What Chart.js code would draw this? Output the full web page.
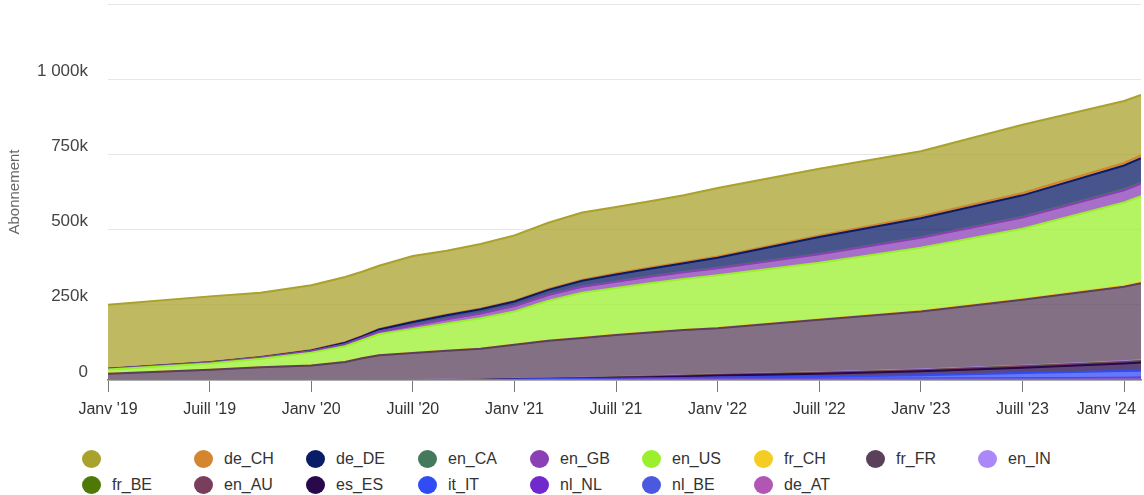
<!DOCTYPE html>
<html lang="fr">
<head>
<meta charset="utf-8">
<title>Abonnements par pays</title>
<script src="https://cdn.jsdelivr.net/npm/chart.js@4.4.1/dist/chart.umd.min.js"></script>
<style>
  html, body { margin: 0; padding: 0; background: #fff; }
  body { width: 1144px; height: 495px; position: relative; overflow: hidden; font-family: "Liberation Sans", Arial, sans-serif; }
  #zone { position: absolute; left: 0; top: 0; width: 1144px; height: 420px; }
  #legende { position: absolute; left: 82px; top: 446px; display: grid; grid-template-columns: repeat(9, 112px); grid-auto-rows: 26px; }
  .item { display: flex; align-items: center; font-size: 16px; color: #333; white-space: nowrap; }
  .puce { width: 19px; height: 18px; border-radius: 50%; margin-right: 11px; flex: none; }
</style>
</head>
<body>
<div id="zone"><canvas id="graphique"></canvas></div>
<div id="legende"></div>
<script>
// mois écoulés depuis janvier 2019
const mois = [0, 6, 9, 12, 14, 15, 16, 18, 20, 22, 24, 26, 28, 30, 32, 34, 36, 42, 48, 54, 60, 61];
const ticksMois = [0, 6, 12, 18, 24, 30, 36, 42, 48, 54, 60];
const etiquettesMois = ["Janv '19", "Juill '19", "Janv '20", "Juill '20", "Janv '21", "Juill '21",
  "Janv '22", "Juill '22", "Janv '23", "Juill '23", "Janv '24"];
const ticksAbonnes = [0, 250, 500, 750, 1000, 1250];

// abonnements, en milliers
const sansNom = [212, 218, 213, 215, 217, 213, 210, 217, 212, 214, 217, 220, 223, 220, 220, 222, 227, 222, 216, 227, 206, 201];
const deCH = [0.8, 1, 1.2, 1.5, 1.7, 1.8, 2, 2.3, 2.5, 2.8, 3, 3.3, 3.6, 3.9, 4.2, 4.5, 4.8, 5.5, 6.5, 7.5, 8.5, 8.8];
const deDE = [0.7, 1, 1.5, 2.5, 5, 5, 7, 11, 12.5, 13, 14, 16, 19, 23, 25, 28, 33, 55, 63, 71, 79, 82];
const enCA = [0.2, 0.3, 0.3, 0.4, 0.5, 0.5, 0.6, 0.7, 0.8, 0.9, 1, 1.1, 1.2, 1.3, 1.4, 1.5, 1.6, 2, 2.4, 2.8, 3.2, 3.3];
const enGB = [1.3, 2.7, 3.2, 4.6, 6.5, 7.5, 8.4, 11.3, 14.2, 16.1, 18, 18.9, 19.8, 20.7, 21.6, 22.5, 23.4, 28, 32.6, 37.2, 40.8, 41.7];
const enUS = [13.7, 20.7, 28.6, 42.5, 51.5, 59.4, 69.4, 79.3, 90.2, 100.1, 110, 131.9, 148.8, 154.7, 162.6, 168.5, 174.4, 188.1, 209.8, 233.4, 277, 285.9];
const frCH = [0.3, 0.3, 0.4, 0.5, 0.5, 0.6, 0.6, 0.7, 0.8, 0.9, 1, 1.1, 1.2, 1.3, 1.4, 1.5, 1.6, 1.9, 2.2, 2.6, 3, 3.1];
const frFR = [21, 34, 42, 48, 60, 72, 82, 90, 96.5, 103, 113, 125, 132.5, 140, 145.5, 150.5, 153.5, 174.5, 193.5, 219.5, 247.5, 256];
const enIN = [0, 0, 0, 0, 0, 0, 0, 0, 0.3, 0.5, 0.6, 0.7, 0.8, 0.9, 1, 1.1, 1.2, 1.5, 1.8, 2.1, 2.5, 2.6];
const frBE = [0, 0, 0, 0, 0, 0, 0, 0, 0, 0.1, 0.2, 0.3, 0.3, 0.4, 0.4, 0.5, 0.5, 0.6, 0.7, 0.8, 1, 1];
const enAU = [0, 0, 0, 0, 0, 0, 0, 0, 0.2, 0.5, 0.8, 1, 1.2, 1.4, 1.6, 1.8, 2, 2.5, 3, 3.5, 4, 4.2];
const esES = [0, 0, 0, 0, 0, 0, 0, 0, 0, 0, 0.3, 0.6, 1.2, 2.2, 3.5, 5, 7, 10, 13, 18, 25, 27];
const itIT = [0, 0, 0, 0, 0, 0, 0, 0, 0, 0, 1.6, 2.2, 2.8, 3.4, 4, 4.7, 5.3, 7.2, 11.1, 17, 22.4, 22.9];
const nlNL = [0, 0, 0, 0, 0, 0, 0, 0, 0, 0, 0.1, 0.2, 0.3, 0.4, 0.5, 0.6, 0.7, 1, 1.3, 1.6, 2, 2.1];
const nlBE = [0, 0, 0, 0, 0, 0, 0, 0, 0, 0, 0.2, 0.4, 0.6, 0.8, 1, 1.2, 1.4, 2, 2.6, 3.2, 4, 4.2];
const deAT = [0, 0, 0, 0, 0, 0, 0, 0, 0, 0, 0.1, 0.2, 0.3, 0.4, 0.5, 0.5, 0.6, 0.8, 1, 1.2, 1.6, 1.8];

// ordre d'empilement, du bas vers le haut
const pile = [
  { nom: 'de_AT', valeurs: deAT, couleur: '#b256b4' },
  { nom: 'nl_BE', valeurs: nlBE, couleur: '#4b59e0' },
  { nom: 'nl_NL', valeurs: nlNL, couleur: '#6f29cc' },
  { nom: 'it_IT', valeurs: itIT, couleur: '#2f4cf6' },
  { nom: 'es_ES', valeurs: esES, couleur: '#27094c' },
  { nom: 'en_AU', valeurs: enAU, couleur: '#7a3e5d' },
  { nom: 'fr_BE', valeurs: frBE, couleur: '#4f7907' },
  { nom: 'en_IN', valeurs: enIN, couleur: '#ab87f8' },
  { nom: 'fr_FR', valeurs: frFR, couleur: '#5b405b' },
  { nom: 'fr_CH', valeurs: frCH, couleur: '#f3cd21' },
  { nom: 'en_US', valeurs: enUS, couleur: '#9bf02e' },
  { nom: 'en_GB', valeurs: enGB, couleur: '#8b3fb6' },
  { nom: 'en_CA', valeurs: enCA, couleur: '#45795d' },
  { nom: 'de_DE', valeurs: deDE, couleur: '#0b1c66' },
  { nom: 'de_CH', valeurs: deCH, couleur: '#d5852f' },
  { nom: '', valeurs: sansNom, couleur: '#a9a22c' }
];

const police = '"Liberation Sans", Arial, sans-serif';
Chart.defaults.font.family = police;

function transparence(hex, a) {
  const n = parseInt(hex.slice(1), 16);
  return `rgba(${(n >> 16) & 255}, ${(n >> 8) & 255}, ${n & 255}, ${a})`;
}

function formatK(v) {
  if (v === 0) return '0';
  return String(v).replace(/\B(?=(\d{3})+(?!\d))/g, ' ') + 'k';
}

// légende en grille sous le graphique
const legendeHtml = {
  id: 'legendeHtml',
  afterUpdate(chart) {
    const boite = document.getElementById('legende');
    boite.innerHTML = '';
    const items = chart.options.plugins.legend.labels.generateLabels(chart).reverse();
    items.forEach(it => {
      const el = document.createElement('div');
      el.className = 'item';
      const puce = document.createElement('span');
      puce.className = 'puce';
      puce.style.background = it.strokeStyle;
      const txt = document.createElement('span');
      txt.textContent = it.text;
      el.appendChild(puce);
      el.appendChild(txt);
      boite.appendChild(el);
    });
  }
};

const ctx = document.getElementById('graphique').getContext('2d');

new Chart(ctx, {
  type: 'line',
  data: {
    datasets: pile.map((s, i) => ({
      label: s.nom,
      data: mois.map((m, j) => ({ x: m, y: s.valeurs[j] })),
      borderColor: s.couleur,
      backgroundColor: transparence(s.couleur, 0.75),
      borderWidth: 2,
      fill: i === 0 ? 'origin' : '-1',
      pointRadius: 0,
      pointHoverRadius: 0,
      tension: 0,
      clip: 0
    }))
  },
  options: {
    responsive: true,
    maintainAspectRatio: false,
    animation: false,
    layout: { padding: { top: 4, right: 3, left: 0, bottom: 0 } },
    plugins: {
      legend: { display: false },
      tooltip: { enabled: false }
    },
    scales: {
      x: {
        type: 'linear',
        min: 0,
        max: 61,
        z: 1,
        afterBuildTicks: s => { s.ticks = ticksMois.map(v => ({ value: v })); },
        afterFit: s => { s.height = 40; s.paddingLeft = 0; s.paddingRight = 0; },
        grid: { drawOnChartArea: false, drawTicks: true, tickLength: 12, color: '#777' },
        border: { color: '#777', width: 1.5 },
        ticks: {
          color: '#333',
          font: { size: 16 },
          padding: 8,
          maxRotation: 0,
          autoSkip: false,
          callback: v => {
            const i = ticksMois.indexOf(v);
            if (i < 0) return '';
            // le dernier libellé est décalé pour rester dans le cadre
            return i === ticksMois.length - 1 ? etiquettesMois[i] + '\u2007\u2007\u2007\u2007' : etiquettesMois[i];
          }
        }
      },
      y: {
        stacked: true,
        min: 0,
        max: 1250,
        afterBuildTicks: s => { s.ticks = ticksAbonnes.map(v => ({ value: v })); },
        afterFit: s => { s.width = 108; s.paddingTop = 0; s.paddingBottom = 0; },
        grid: { color: '#e6e6e6', drawTicks: false },
        border: { display: false },
        ticks: {
          padding: 20,
          labelOffset: -8,
          color: '#444',
          font: { size: 17 },
          callback: v => v === 1250 ? '' : formatK(v)
        },
        title: {
          display: true,
          text: 'Abonnement',
          color: '#666',
          font: { size: 15 },
          padding: { top: 6, bottom: 0 }
        }
      }
    }
  },
  plugins: [legendeHtml]
});
</script>
</body>
</html>
